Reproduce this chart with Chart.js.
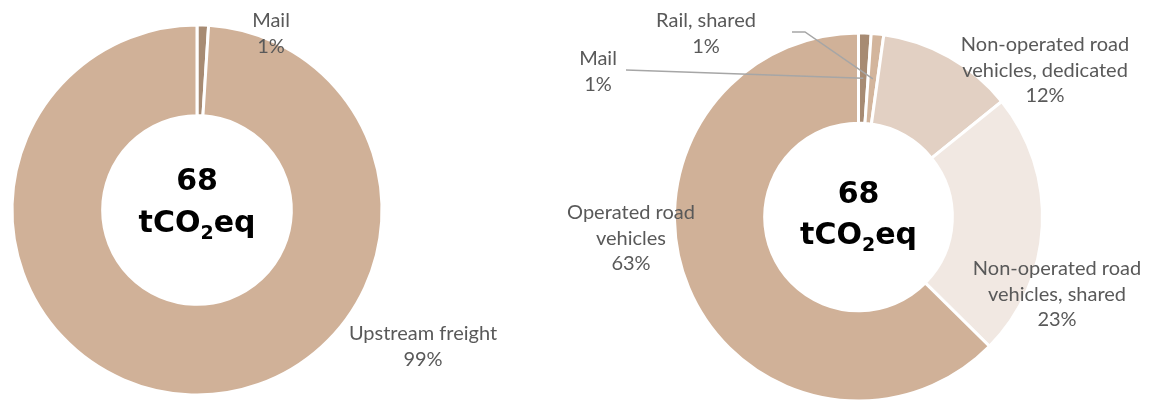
<!DOCTYPE html>
<html>
<head>
<meta charset="utf-8">
<script src="https://cdn.jsdelivr.net/npm/chart.js@4.4.1/dist/chart.umd.min.js"></script>
<style>
  html, body { margin: 0; padding: 0; background: #fff; width: 1150px; height: 400px; overflow: hidden; }
  .box { position: absolute; top: 0; }
  #leftBox { left: 0; width: 575px; height: 400px; }
  #rightBox { left: 490px; width: 660px; height: 405px; }
</style>
</head>
<body>
<div id="leftBox" class="box"><canvas id="left" width="575" height="400"></canvas></div>
<div id="rightBox" class="box"><canvas id="right" width="660" height="405"></canvas></div>
<script>
// ---- Data ----
const centerValue = "68";
const centerUnit = ["tCO", "2", "eq"];

const leftCategories = ["Mail", "Upstream freight"];
const leftValues = [1.0, 99.0];
const leftColors = ["#A78B73", "#D0B198"];

const rightCategories = ["Mail", "Rail, shared", "Non-operated road vehicles, dedicated", "Non-operated road vehicles, shared", "Operated road vehicles"];
const rightValues = [1.1, 1.1, 12.0, 23.2, 62.6];
const rightColors = ["#A78B73", "#D3B59C", "#E2D0C3", "#F1E8E2", "#D0B198"];

// label text lines (category split into lines)
const leftLabelLines = [["Mail"], ["Upstream freight"]];
const rightLabelLines = [["Mail"], ["Rail, shared"], ["Non-operated road", "vehicles, dedicated"], ["Non-operated road", "vehicles, shared"], ["Operated road", "vehicles"]];

const LABEL_FONT = '20px Lato, "Open Sans", sans-serif';
const LABEL_COLOR = "#595959";
const LINE_H = 25.5;

const donutLabelPlugin = {
  id: "donutLabels",
  afterDatasetsDraw(chart, args, opts) {
    const ctx = chart.ctx;
    const meta = chart.getDatasetMeta(0);
    const data = chart.data.datasets[0].data;
    const total = data.reduce((a, b) => a + b, 0);
    const cx = (chart.chartArea.left + chart.chartArea.right) / 2;
    const cy = (chart.chartArea.top + chart.chartArea.bottom) / 2;

    // leader lines
    ctx.save();
    ctx.strokeStyle = "#A6A6A6";
    ctx.lineWidth = 1.5;
    (opts.leaders || []).forEach(ld => {
      const arc = meta.data[ld.index];
      const p = arc.getCenterPoint();
      ctx.beginPath();
      ctx.moveTo(ld.path[0][0], ld.path[0][1]);
      for (let i = 1; i < ld.path.length; i++) ctx.lineTo(ld.path[i][0], ld.path[i][1]);
      ctx.lineTo(p.x, p.y);
      ctx.stroke();
    });
    ctx.restore();

    // labels
    ctx.save();
    ctx.font = LABEL_FONT;
    ctx.fillStyle = LABEL_COLOR;
    ctx.textAlign = "center";
    ctx.textBaseline = "alphabetic";
    opts.labels.forEach((lb, i) => {
      const lines = opts.lines[i].concat([Math.round(data[i] / total * 100) + "%"]);
      lines.forEach((t, k) => ctx.fillText(t, lb.x, lb.y + k * LINE_H));
    });
    ctx.restore();

    // center text
    ctx.save();
    ctx.fillStyle = "#000";
    ctx.textBaseline = "alphabetic";
    ctx.textAlign = "left";
    const big = 'bold 30px "DejaVu Sans", Verdana, sans-serif';
    const small = 'bold 19px "DejaVu Sans", Verdana, sans-serif';
    ctx.font = big;
    const w68 = ctx.measureText(centerValue).width;
    ctx.fillText(centerValue, cx - w68 / 2, cy + opts.topBase);
    const w1 = ctx.measureText(centerUnit[0]).width;
    const w3 = ctx.measureText(centerUnit[2]).width;
    ctx.font = small;
    const w2 = ctx.measureText(centerUnit[1]).width;
    let x = cx - (w1 + w2 + w3) / 2;
    const base = cy + opts.botBase;
    ctx.font = big; ctx.fillText(centerUnit[0], x, base); x += w1;
    ctx.font = small; ctx.fillText(centerUnit[1], x, base + 7); x += w2;
    ctx.font = big; ctx.fillText(centerUnit[2], x, base);
    ctx.restore();
  }
};

function makeDonut(id, labels, values, colors, padding, cutout, pluginOpts) {
  return new Chart(document.getElementById(id), {
    type: "doughnut",
    data: {
      labels: labels,
      datasets: [{ data: values, backgroundColor: colors, borderColor: "#ffffff", borderWidth: 3 }]
    },
    options: {
      responsive: false,
      animation: false,
      cutout: cutout,
      layout: { padding: padding },
      plugins: {
        legend: { display: false },
        tooltip: { enabled: false },
        donutLabels: pluginOpts
      }
    },
    plugins: [donutLabelPlugin]
  });
}

makeDonut("left", leftCategories, leftValues, leftColors,
  { left: 10.5, top: 23.5, right: 191.5, bottom: 3.5 }, "51%",
  {
    lines: leftLabelLines,
    labels: [{ x: 271, y: 27 }, { x: 423, y: 340 }],
    leaders: [],
    topBase: -20, botBase: 22
  });

makeDonut("right", rightCategories, rightValues, rightColors,
  { left: 183, top: 31.5, right: 106, bottom: 2.5 }, "51%",
  {
    lines: rightLabelLines,
    labels: [{ x: 108, y: 65 }, { x: 216, y: 27 }, { x: 555, y: 51 }, { x: 567, y: 275 }, { x: 141, y: 219 }],
    leaders: [
      { index: 0, path: [[136, 70]] },
      { index: 1, path: [[302, 32], [315, 32]] }
    ],
    topBase: -14, botBase: 27
  });
</script>
</body>
</html>
